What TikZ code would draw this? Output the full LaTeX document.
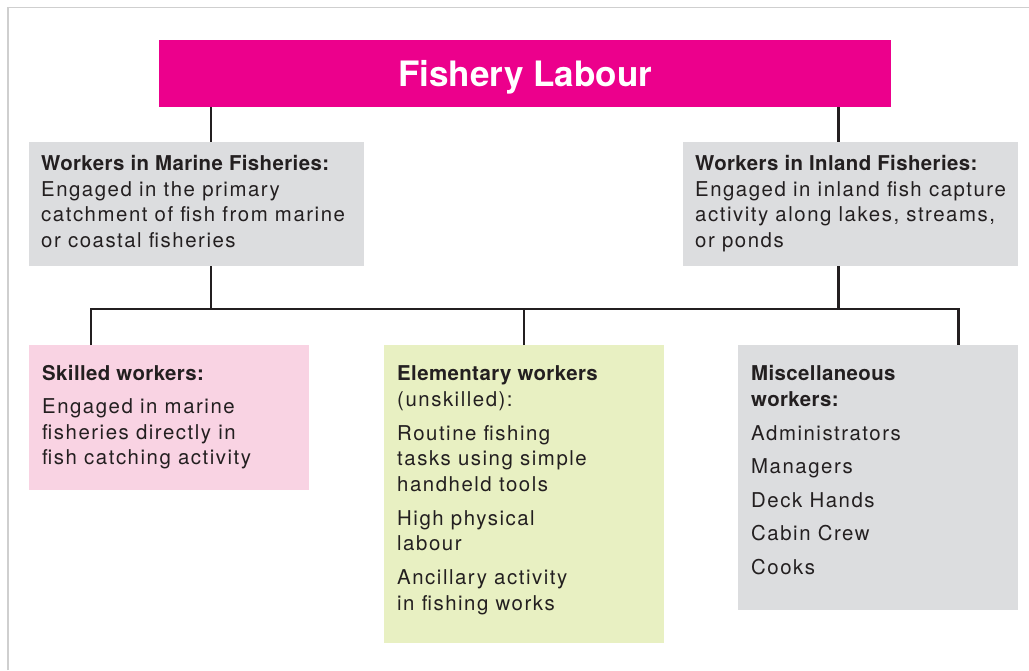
\documentclass[tikz,border=0pt]{standalone}
\usepackage{fontspec}
\setmainfont{TeX Gyre Heros}[LetterSpace=7.5,BoldFeatures={LetterSpace=2}]
\newfontfamily\titlefont{TeX Gyre Heros}
\usetikzlibrary{positioning}
\definecolor{fishpink}{HTML}{EC008C}
\definecolor{panelgrey}{HTML}{DCDDDF}
\definecolor{panelrose}{HTML}{F9D3E3}
\definecolor{panellime}{HTML}{E8F0C2}
\definecolor{inkgrey}{HTML}{231F20}
\definecolor{framegrey}{HTML}{CFCFCF}

\begin{document}
\begin{tikzpicture}[x=1pt,y=-1pt]
		\tikzstyle{every node}+=[inner sep=0pt]
		\tikzstyle{panel}=[anchor=north west]
		\tikzstyle{txt}=[align=left, text=inkgrey, font=\fontsize{20.4}{25.5}\selectfont]
		\tikzstyle{link}=[line width=2.2pt, inkgrey]
		\useasboundingbox (0,0) rectangle (1029,670);
		\draw [framegrey, line width=1.5pt] (8,670) -- (8,7.5) -- (1029,7.5);
		% boxes
		\node [panel, fill=fishpink, minimum width=732pt, minimum height=67pt, text depth=0pt] (title) at (159,40)
			{\titlefont\fontsize{35}{40}\selectfont\bfseries\color{white}Fishery Labour};
		\node [panel, fill=panelgrey, minimum width=335pt, minimum height=124pt] (marine) at (29,142) {};
		\node [panel, fill=panelgrey, minimum width=335pt, minimum height=124pt] (inland) at (683,142) {};
		\node [panel, fill=panelrose, minimum width=280pt, minimum height=145pt] (skilled) at (29,345) {};
		\node [panel, fill=panellime, minimum width=280pt, minimum height=298pt] (elem) at (384,345) {};
		\node [panel, fill=panelgrey, minimum width=280pt, minimum height=265pt] (misc) at (738,345) {};
		% texts
		\node [txt, below right=13.5pt and 12pt of marine.north west] (marinetxt)
			{\textbf{Workers in Marine Fisheries:}\\ Engaged in the primary\\ catchment of fish from marine\\ or coastal fisheries};
		\node [txt, below right=13.5pt and 12pt of inland.north west] (inlandtxt)
			{\textbf{Workers in Inland Fisheries:}\\ Engaged in inland fish capture\\ activity along lakes, streams,\\ or ponds};
		\node [txt, below right=20.5pt and 13pt of skilled.north west] (skilledtxt)
			{\textbf{Skilled workers:}\\[7.5pt] Engaged in marine\\ fisheries directly in\\ fish catching activity};
		\node [txt, below right=20.5pt and 13pt of elem.north west] (elemtxt)
			{\textbf{Elementary workers}\\ (unskilled):\\[8.5pt] Routine fishing\\ tasks using simple\\ handheld tools\\[8.5pt] High physical\\ labour\\[8.5pt] Ancillary activity\\ in fishing works};
		\node [txt, below right=20.5pt and 13pt of misc.north west] (misctxt)
			{\textbf{Miscellaneous}\\ \textbf{workers:}\\[8.5pt] Administrators\\[8pt] Managers\\[8pt] Deck Hands\\[8pt] Cabin Crew\\[8pt] Cooks};
		% connectors
		\coordinate (hub) at (0,309);
		\path (title.south west) ++(52,0) coordinate (tl);
		\path (title.south east) ++(-53,0) coordinate (tr);
		\path (skilled.north west) ++(62,0) coordinate (sk);
		\path (misc.north east) ++(-60,0) coordinate (mi);
		\draw [link] (tl) -- (tl |- marine.north);
		\draw [link] (tr) -- (tr |- inland.north);
		\draw [link] (tl |- marine.south) -- (tl |- hub);
		\draw [link] (tr |- inland.south) -- (tr |- hub);
		\draw [link] (sk) -- (sk |- hub) -- (mi |- hub) -- (mi);
		\draw [link] (elem.north) -- (elem.north |- hub);
	\end{tikzpicture}
\end{document}
